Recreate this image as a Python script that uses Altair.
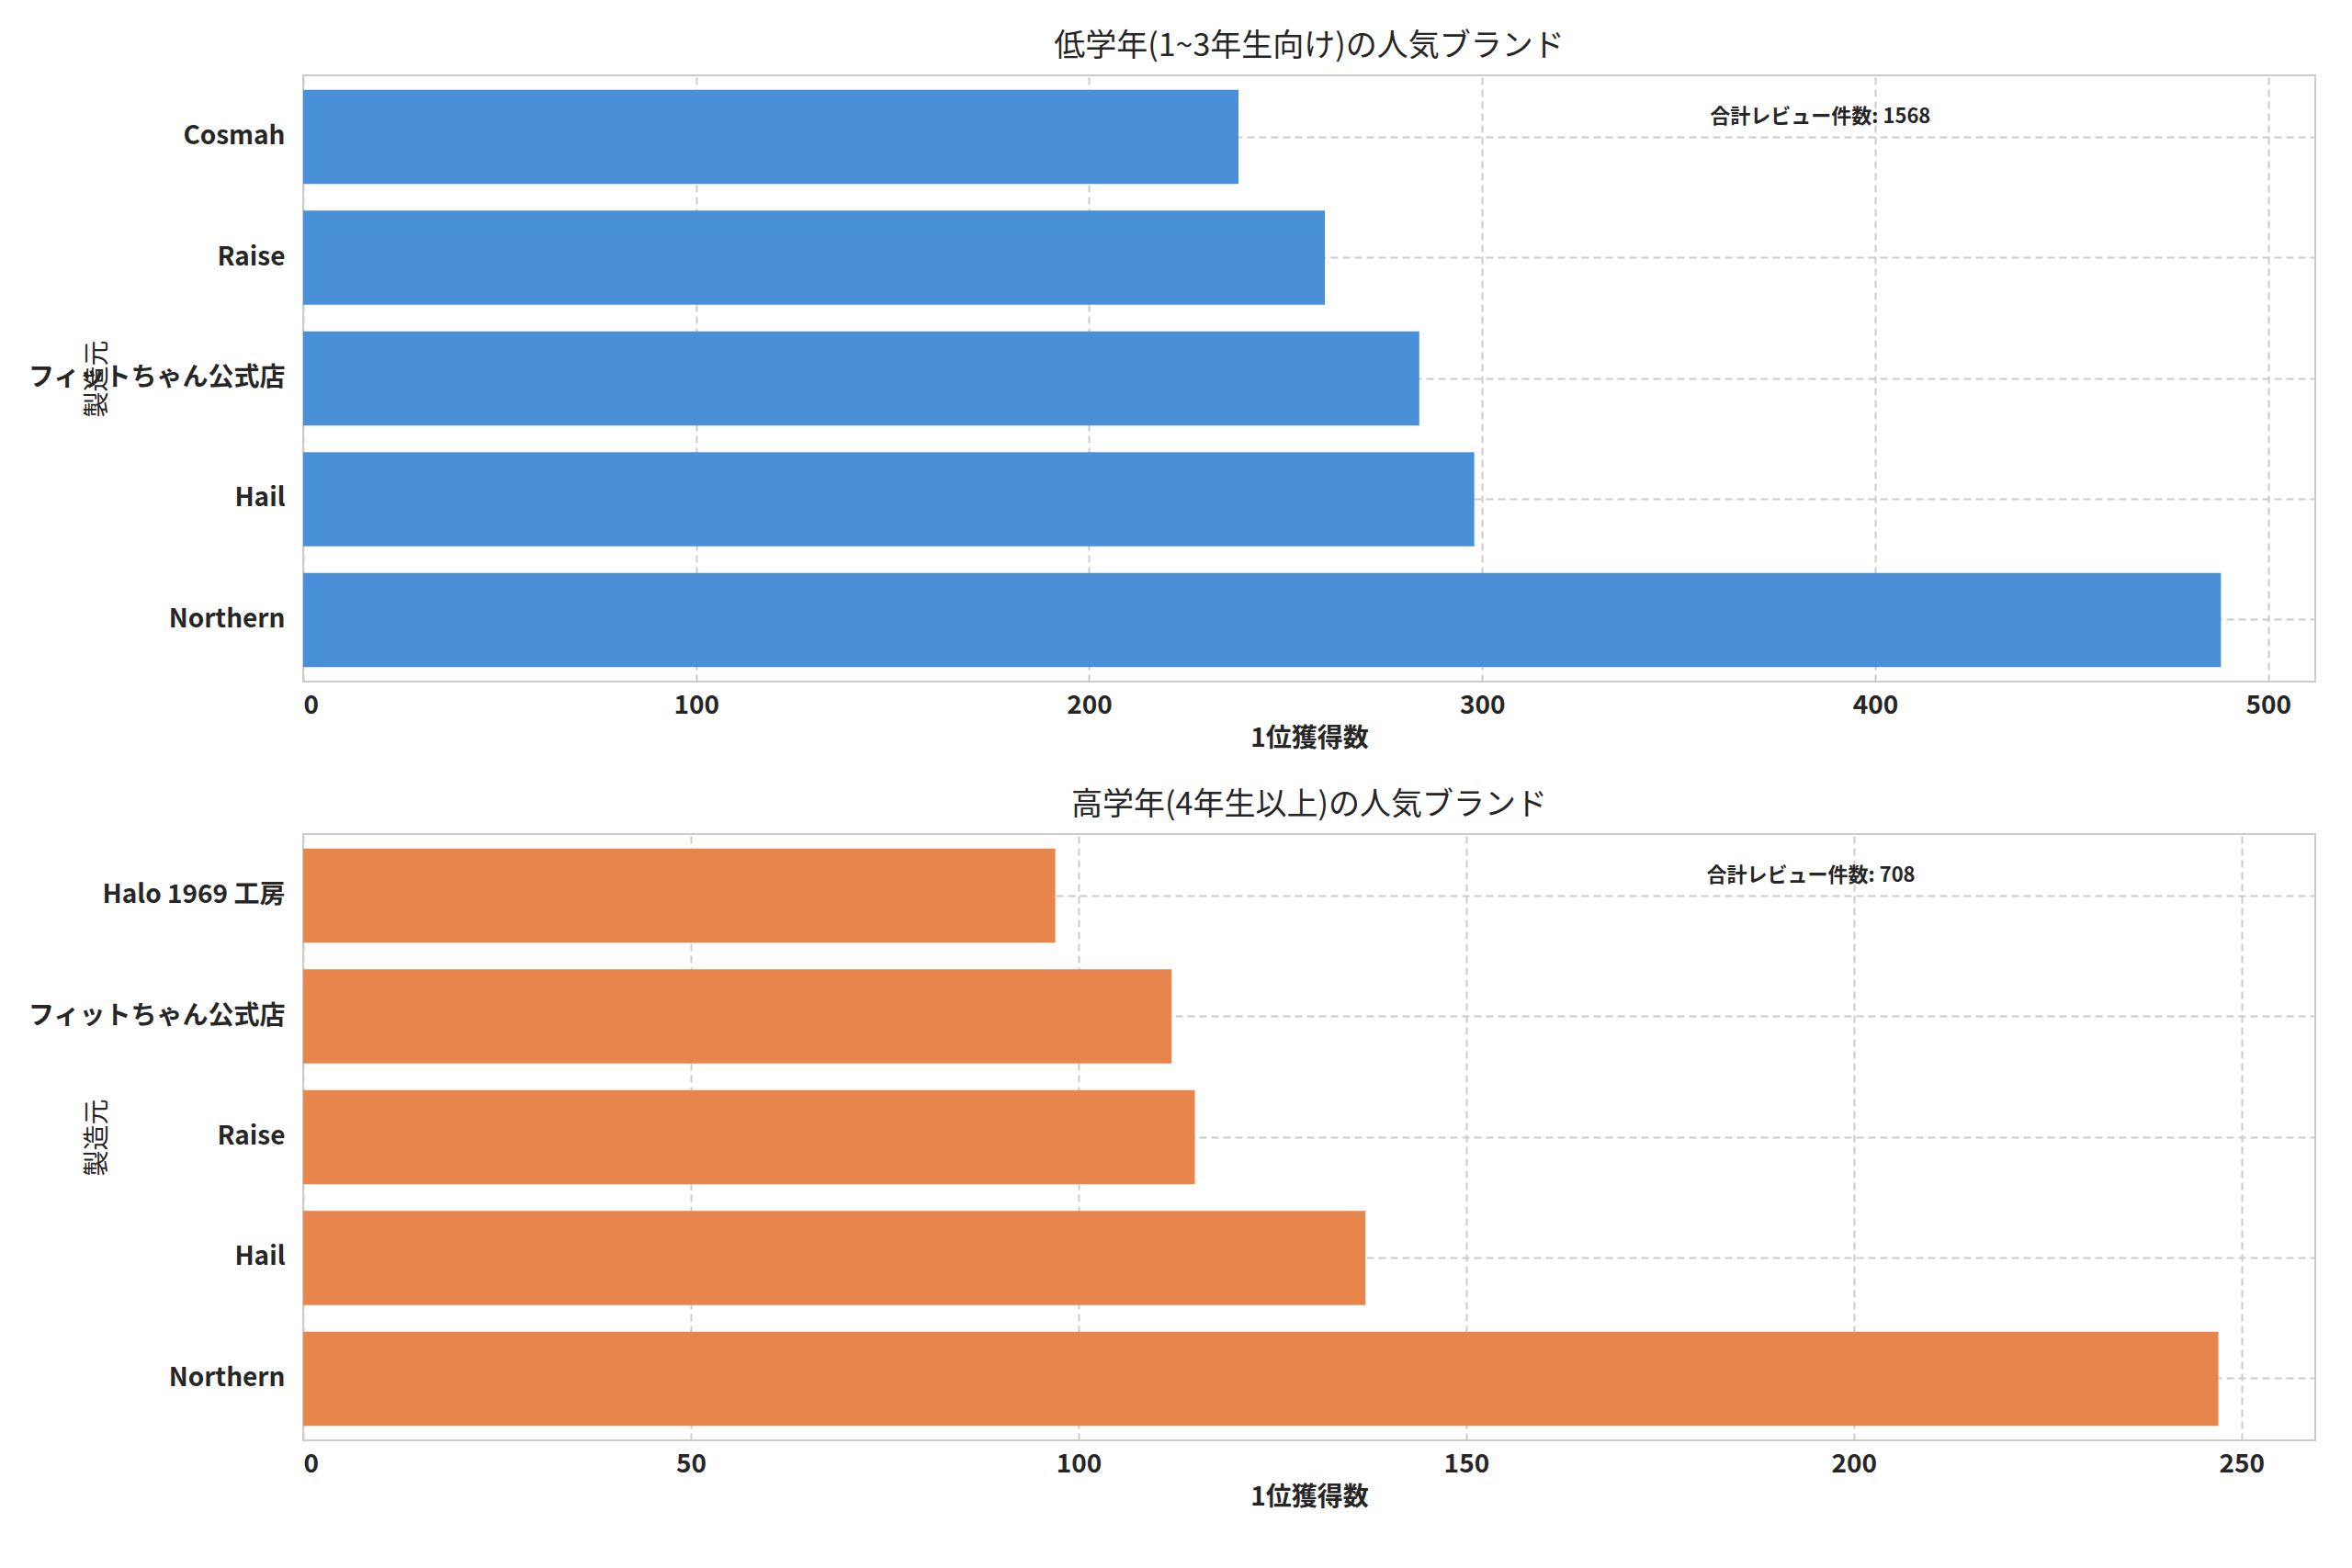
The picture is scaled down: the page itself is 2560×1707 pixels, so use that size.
import altair as alt
import pandas as pd

top_brands = ["Cosmah", "Raise", "フィットちゃん公式店", "Hail", "Northern"]
top_values = [238, 260, 284, 298, 488]
bot_brands = ["Halo 1969 工房", "フィットちゃん公式店", "Raise", "Hail", "Northern"]
bot_values = [97, 112, 115, 137, 247]

FONT = "Noto Sans CJK JP"
W, H = 2190, 660

def panel(brands, values, color, title, xmax, ticks, note, note_x):
    df = pd.DataFrame({"brand": brands, "value": values})
    y = alt.Y("brand:N", sort=brands, title="製造元",
              scale=alt.Scale(paddingInner=0.22, paddingOuter=0.12),
              axis=alt.Axis(labelFontSize=28, labelFontWeight="bold", labelColor="#262626", labelLimit=0,
                            titleFontSize=28, titleFontWeight="normal", titleColor="#262626",
                            grid=True, gridDash=[8, 5], gridColor="#cccccc", gridWidth=2,
                            ticks=False, domain=False, labelPadding=20, titlePadding=10))
    x = alt.X("value:Q", title="1位獲得数", scale=alt.Scale(domain=[0, xmax], nice=False),
              axis=alt.Axis(values=ticks, labelFontSize=28, labelFontWeight="bold", labelColor="#262626",
                            titleFontSize=28, titleFontWeight="bold", titleColor="#262626",
                            grid=True, gridDash=[8, 5], gridColor="#cccccc", gridWidth=2,
                            ticks=False, domain=False, labelPadding=12, titlePadding=8))
    bars = alt.Chart(df).mark_bar(color=color).encode(x=x, y=y)
    ndf = pd.DataFrame({"brand": [brands[0]], "value": [note_x], "t": [note]})
    txt = alt.Chart(ndf).mark_text(align="left", dy=-22, fontSize=22, fontWeight="bold",
                                   color="#262626", font=FONT).encode(
        x=alt.X("value:Q"), y=alt.Y("brand:N", sort=brands), text="t:N")
    return (bars + txt).properties(
        width=W, height=H,
        title=alt.TitleParams(title, fontSize=34, fontWeight="normal", color="#262626", offset=14))

c1 = panel(top_brands, top_values, "#4a90d9", "低学年(1~3年生向け)の人気ブランド",
           512, [0, 100, 200, 300, 400, 500], "合計レビュー件数: 1568", 358)
c2 = panel(bot_brands, bot_values, "#e8854d", "高学年(4年生以上)の人気ブランド",
           259.5, [0, 50, 100, 150, 200, 250], "合計レビュー件数: 708", 181)

chart = alt.vconcat(c1, c2, spacing=40).properties(
    padding={"left": 20, "top": 25, "right": 10, "bottom": 10}
).configure(font=FONT).configure_view(
    stroke="#cccccc", strokeWidth=2).configure_concat(spacing=40)

chart.save("out.html", embed_options={"renderer": "svg", "actions": False})
